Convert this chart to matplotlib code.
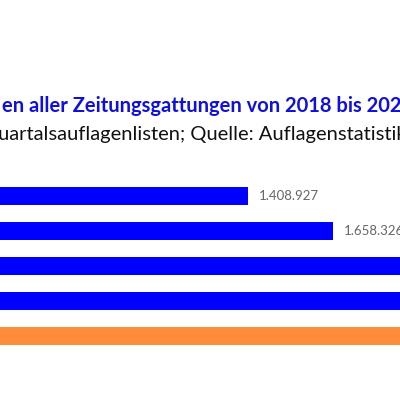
import matplotlib
matplotlib.use("Agg")
import matplotlib.pyplot as plt

# values (only the first two are readable; the others run off the picture)
years = ["2018", "2019", "2020", "2021", "2022"]
values = [1408927, 1658326, 2150000, 2300000, 2450000]
labels = ["1.408.927", "1.658.326", "", "", ""]
colors = ["#0000ff", "#0000ff", "#0000ff", "#0000ff", "#ff8c3a"]

title = "en aller Zeitungsgattungen von 2018 bis 2023"
subtitle = "uartalsauflagenlisten; Quelle: Auflagenstatistik der IVW"

plt.rcParams["font.family"] = ["Lato", "DejaVu Sans"]

fig = plt.figure(figsize=(4, 4), dpi=100)
ax = fig.add_axes([0, 0, 1, 1])
pos = list(range(len(values)))
ax.barh(pos, values, height=0.49, color=colors)
for p, v, l in zip(pos, values, labels):
    if l:
        ax.text(v + 30000, p, l, va="center", ha="left", fontsize=9.5, color="#666666")

ax.set_xlim(680700, 1854400)
ax.set_ylim(5.83, -5.6)
ax.axis("off")

fig.text(0.005, 0.735, title, color="#1010dd", fontsize=14.5, fontweight="bold",
         va="center", ha="left")
fig.text(-0.005, 0.663, subtitle, color="#111111", fontsize=14.5,
         va="center", ha="left")

fig.savefig("out.png", dpi=100, facecolor="white")
